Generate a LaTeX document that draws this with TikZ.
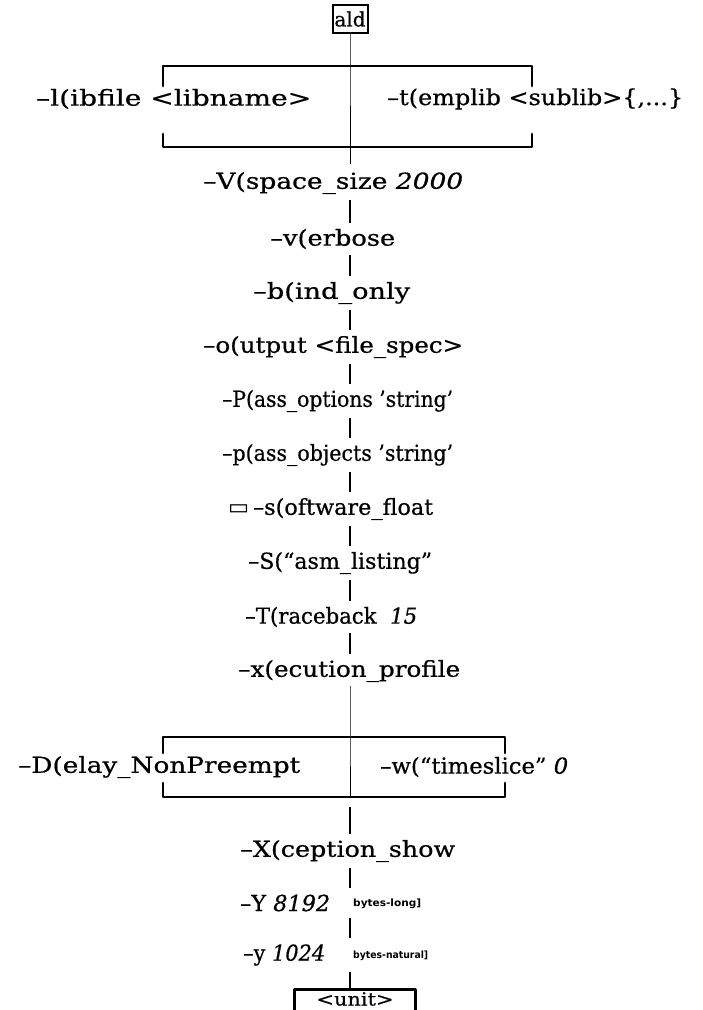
\documentclass[tikz,border=0pt]{standalone}
\usepackage{fontspec}
\usepackage{graphicx}
\setmainfont{DejaVu Serif}[FakeBold=0.6]
\newfontfamily\symfont{DejaVu Sans}
\newcommand{\fw}[2]{\resizebox{#1pt}{\height}{#2}}
\usetikzlibrary{calc}
\begin{document}
\begin{tikzpicture}[x=1pt,y=1pt,
  lbl/.style={inner sep=0pt, font=\fontsize{22}{26}\selectfont},
  small/.style={inner sep=0pt, font=\symfont\bfseries\fontsize{10}{11}\selectfont},
  conn/.style={line width=1pt},
  tick/.style={line width=1.1pt, shorten <=6pt, shorten >=6pt},
  brk/.style={line width=2.8pt, line cap=round, line join=round},
  boxed/.style={draw, line width=2pt, inner sep=1.5pt}]
\useasboundingbox (0,0) rectangle (702,-1010);
\clip (0,0) rectangle (702,-1010);

% top box
\node[boxed, lbl, font=\fontsize{20}{24}\selectfont, minimum width=35, minimum height=28] (ald) at (350,-19) {ald};

% bracket 1
\coordinate (b1t) at (350,-66);
\coordinate (b1b) at (350,-147);
\draw[brk] (163,-86) -- (163,-66) -- (532,-66) -- (532,-86);
\draw[brk] (163,-134) -- (163,-147) -- (532,-147) -- (532,-134);
\node[lbl, anchor=west] (lib) at (36,-99) {\fw{275}{–l(ibfile <libname>}};
\node[lbl, anchor=west] (tmp) at (387,-99) {\fw{296}{–t(emplib <sublib>\{,...\}}};
\draw[conn] (ald.south) -- (b1t) -- (b1b);
\coordinate (b1e) at (350,-164);
\draw[conn] (b1b) -- (b1e);

% rows
\node[lbl, anchor=west] (V) at (203,-183) {\fw{260}{–V(space\_size \textit{2000}}};
\node[lbl, anchor=west] (v) at (270,-239) {\fw{125}{–v(erbose}};
\node[lbl, anchor=west] (b) at (253,-293) {\fw{157}{–b(ind\_only}};
\node[lbl, anchor=west] (o) at (203,-347) {\fw{260}{–o(utput <file\_spec>}};
\node[lbl, anchor=west] (P) at (222,-401) {\fw{231}{–P(ass\_options ’string’}};
\node[lbl, anchor=west] (p) at (222,-455) {\fw{231}{–p(ass\_objects ’string’}};
\node[lbl, anchor=west] (s) at (228,-509) {\fw{205}{{\symfont ▭}\,–s(oftware\_float}};
\node[lbl, anchor=west] (S) at (248,-563) {\fw{184}{–S(“asm\_listing”}};
\node[lbl, anchor=west] (T) at (245,-617) {\fw{172}{–T(raceback \ \textit{15}}};
\node[lbl, anchor=west] (x) at (238,-671) {\fw{222}{–x(ecution\_profile}};

\foreach \a/\b in {V/v, v/b, b/o, o/P, P/p, p/s, s/S, S/T, T/x}
  \draw[tick] (\a.south -| ald.south) -- (\b.north -| ald.south);

% bracket 2
\coordinate (b2t) at (350,-737);
\coordinate (b2b) at (350,-797);
\draw[brk] (163,-753) -- (163,-737) -- (505,-737) -- (505,-753);
\draw[brk] (163,-783) -- (163,-797) -- (505,-797) -- (505,-783);
\node[lbl, anchor=west] (D) at (18,-767) {\fw{282}{–D(elay\_NonPreempt}};
\node[lbl, anchor=west] (w) at (380,-767) {\fw{188}{–w(“timeslice” \textit{0}}};
\draw[conn] ([yshift=-4pt]x.south -| ald.south) -- (b2t) -- (b2b);

% lower rows
\node[lbl, anchor=west] (X) at (240,-851) {\fw{215}{–X(ception\_show}};
\node[lbl, anchor=west] (Y) at (240,-903) {\fw{90}{–Y \textit{8192}}};
\node[small, anchor=west] (Yb) at (353,-904) {\fw{68}{bytes-long]}};
\node[lbl, anchor=west] (y) at (243,-955) {\fw{82}{–y \textit{1024}}};
\node[small, anchor=west] (yb) at (353,-956) {\fw{75}{bytes-natural]}};

\draw[tick, shorten <=10pt] (b2b) -- (X.north -| ald.south);
\draw[tick] (X.south -| ald.south) -- (Y.north -| ald.south);
\draw[tick] (Y.south -| ald.south) -- (y.north -| ald.south);

% unit box
\node[lbl, font=\fontsize{18}{20}\selectfont, minimum width=120, minimum height=18] (unit) at (355,-999) {\fw{77}{<unit>}};
\draw[brk, line cap=butt] ([yshift=-20pt]unit.south west) -- (unit.north west) -- (unit.north east) -- ([yshift=-20pt]unit.south east);
\draw[tick, shorten >=2pt] (y.south -| ald.south) -- (unit.north -| ald.south);
\end{tikzpicture}
\end{document}
